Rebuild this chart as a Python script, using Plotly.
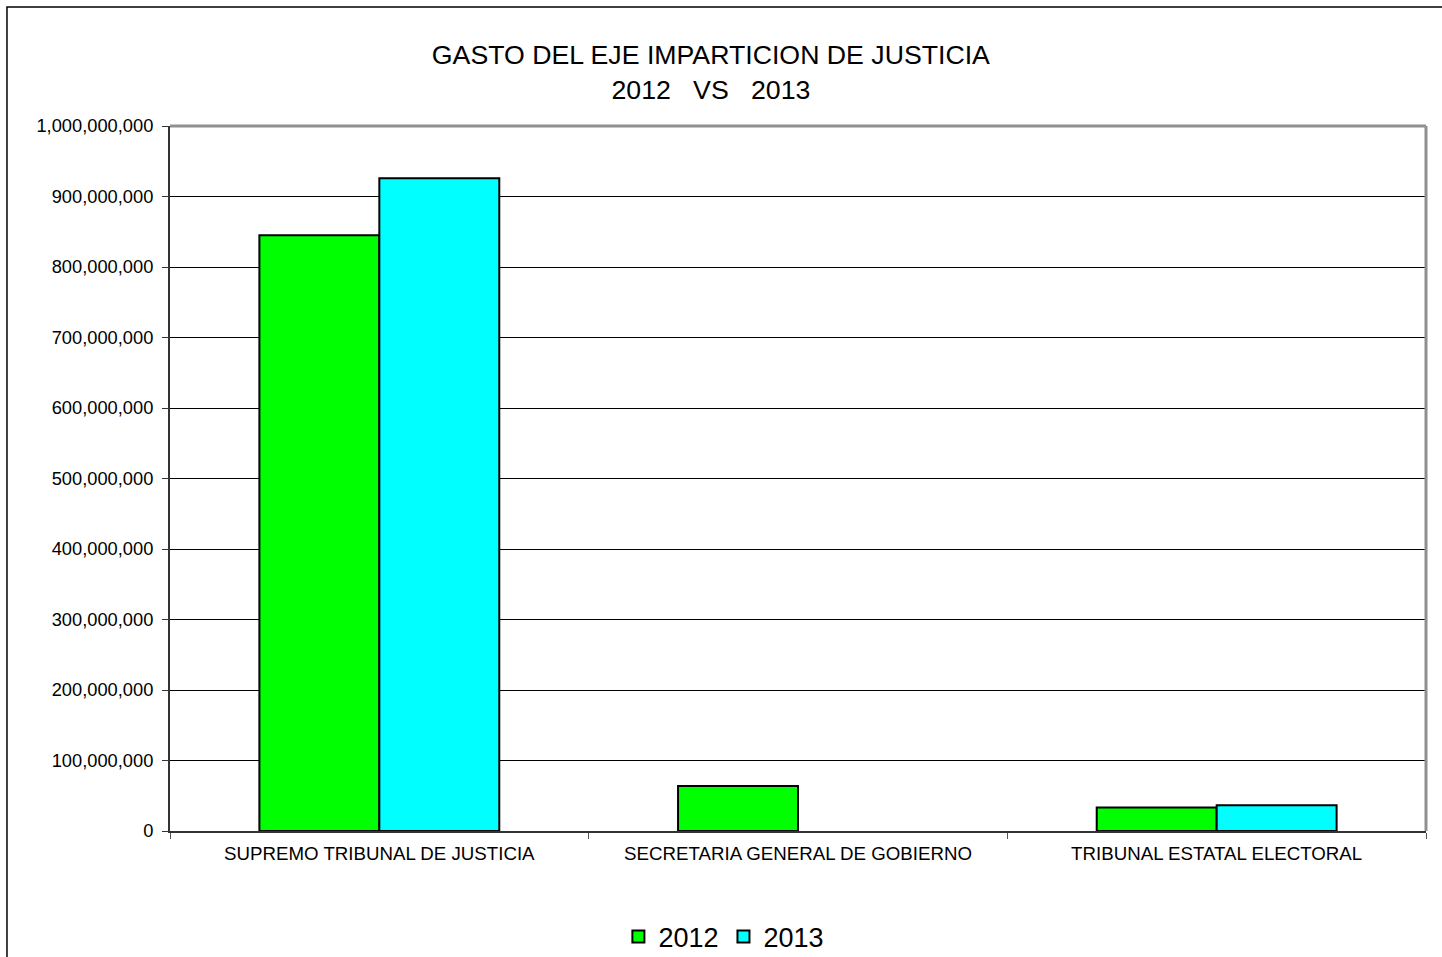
import plotly.graph_objects as go

categories = ['SUPREMO TRIBUNAL DE JUSTICIA', 'SECRETARIA GENERAL DE GOBIERNO', 'TRIBUNAL ESTATAL ELECTORAL']
gasto_2012 = [845000000, 64000000, 33500000]
gasto_2013 = [926000000, None, 36500000]
y_ticks = [0, 100000000, 200000000, 300000000, 400000000, 500000000,
           600000000, 700000000, 800000000, 900000000, 1000000000]

fig = go.Figure()
fig.add_trace(go.Bar(x=categories, y=gasto_2012, name='2012',
                     marker=dict(color='#00FF00', line=dict(color='black', width=2))))
fig.add_trace(go.Bar(x=categories, y=gasto_2013, name='2013',
                     marker=dict(color='#00FFFF', line=dict(color='black', width=2))))

font = 'Liberation Sans, Arial, sans-serif'
fig.update_layout(
    width=1442, height=957,
    margin=dict(l=170, r=16, t=126, b=126, autoexpand=False),
    paper_bgcolor='white', plot_bgcolor='white',
    barmode='group', bargap=0.427, bargroupgap=0,
    font=dict(family=font, color='black'),
    title=dict(text='GASTO DEL EJE IMPARTICION DE JUSTICIA<br>2012   VS   2013',
               x=0.493, xanchor='center', y=0.933, yanchor='top',
               font=dict(size=26.7, family=font, color='black')),
    showlegend=True,
    legend=dict(orientation='h', xref='container', yref='container',
                x=0.502, xanchor='center', y=0.021, yanchor='middle',
                font=dict(size=27, family=font, color='black'),
                traceorder='normal'),
    xaxis=dict(showgrid=False, showline=True, linecolor='#333333', linewidth=2,
               ticks='outside', tickson='boundaries', ticklen=6, tickcolor='#555555',
               ticklabelstandoff=5,
               tickfont=dict(size=18.7, family=font, color='black')),
    yaxis=dict(range=[0, 1000000000], tickvals=y_ticks, tickformat=',d',
               showgrid=True, gridcolor='black', gridwidth=1,
               showline=True, linecolor='#333333', linewidth=2,
               ticks='outside', ticklen=6, tickcolor='#333333',
               ticklabelstandoff=5,
               tickfont=dict(size=18.3, family=font, color='black'),
               zeroline=False),
    shapes=[
        dict(type='line', xref='paper', yref='paper', x0=0, x1=1, y0=1, y1=1,
             line=dict(color='#909090', width=3)),
        dict(type='line', xref='paper', yref='paper', x0=1, x1=1, y0=0, y1=1,
             line=dict(color='#909090', width=3)),
        dict(type='rect', xref='paper', yref='paper', x0=-0.1298, x1=1.02,
             y0=-0.2, y1=1.1688, line=dict(color='black', width=1.5)),
    ],
)

fig.write_html('out.html', config={'displayModeBar': False},
               post_script="document.body.style.margin='0';")
